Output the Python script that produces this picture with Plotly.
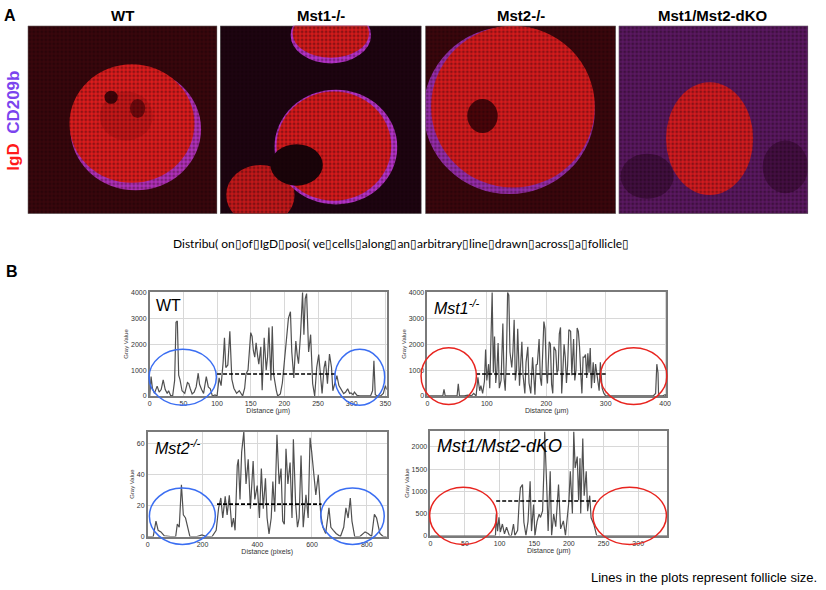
import plotly.graph_objects as go

# ---- panel B data: gray value profiles across a follicle ----
wt_dist = [0, 2, 4, 7, 11, 14, 17, 20, 23, 26, 28, 31, 34, 37, 39, 41, 43, 45, 48, 52,
           56, 58, 60, 63, 66, 69, 72, 74, 77, 80, 84, 87, 90, 93, 97, 100, 103, 106, 109, 111,
           113, 116, 119, 122, 125, 129, 133, 136, 138, 141, 143, 146, 150, 152, 154, 156, 158, 160, 162, 165,
           167, 170, 173, 175, 177, 180, 182, 184, 186, 188, 190, 194, 197, 199, 202, 204, 206, 209, 211, 214,
           217, 219, 221, 224, 227, 229, 231, 233, 236, 239, 242, 245, 248, 251, 254, 256, 259, 261, 264, 267,
           270, 272, 275, 278, 281, 284, 288, 291, 294, 297, 299, 302, 304, 308, 312, 320, 328, 331, 333, 335,
           338, 343, 347, 350, 352]
wt_gray = [0, 750, 300, 100, 380, 150, 250, 620, 250, 100, 200, 20, 0, 600, 2850, 2900, 800, 620, 200, 100,
           520, 480, 300, 80, 150, 350, 880, 450, 250, 100, 750, 350, 280, 0, 40, 0, 700, 400, 1300, 2250,
           1100, 1200, 2500, 640, 300, 100, 200, 50, 0, 300, 850, 1000, 2450, 2300, 1740, 1500, 2060, 1600, 1230, 1900,
           220, 2250, 1000, 1500, 2650, 600, 2700, 850, 500, 220, 0, 80, 500, 1100, 1900, 2500, 3000, 3260, 1700, 700,
           2120, 1600, 1250, 2370, 4000, 2370, 3770, 3960, 1700, 2370, 470, 0, 1100, 1600, 700, 100, 1100, 1360, 470, 1620,
           1100, 200, 500, 790, 400, 280, 90, 150, 280, 100, 120, 50, 150, 20, 0, 0, 0, 200, 1360, 50,
           0, 0, 100, 400, 250]

mst1_dist = [0, 10, 20, 26, 28, 30, 40, 50, 52, 54, 62, 68, 74, 78, 82, 85, 88, 90, 93, 96,
             98, 100, 103, 105, 107, 109, 111, 113, 115, 117, 119, 121, 124, 127, 129, 131, 133, 135, 137, 139,
             142, 144, 146, 148, 150, 152, 155, 157, 159, 161, 164, 166, 169, 171, 174, 177, 179, 181, 183, 185,
             188, 190, 192, 194, 196, 198, 200, 202, 205, 207, 209, 211, 213, 216, 218, 220, 222, 224, 226, 228,
             230, 232, 234, 236, 238, 241, 243, 246, 248, 250, 252, 254, 256, 258, 260, 262, 264, 266, 268, 270,
             272, 274, 276, 279, 281, 283, 286, 289, 291, 294, 297, 300, 320, 340, 360, 380, 384, 386, 388, 389,
             395, 400, 402]
mst1_gray = [0, 0, 0, 0, 260, 0, 0, 0, 470, 0, 0, 30, 0, 100, 0, 720, 200, 400, 100, 560,
             1800, 600, 1230, 300, 2200, 4000, 900, 2300, 500, 1000, 2050, 300, 600, 2800, 700, 200, 1500, 4000, 3900, 1700,
             1100, 1750, 2950, 600, 1000, 2600, 400, 1200, 2100, 800, 100, 1300, 1900, 500, 100, 1500, 600, 50, 1200, 1230,
             2200, 700, 400, 1750, 2880, 2600, 1000, 480, 2100, 2000, 450, 100, 1900, 1750, 900, 1000, 2400, 2650, 100, 1000,
             2000, 1500, 500, 1200, 2560, 2500, 800, 2200, 600, 1000, 2630, 2500, 1900, 900, 100, 1500, 1500, 1600, 700, 1650,
             900, 1850, 300, 1300, 500, 1230, 700, 200, 1300, 300, 100, 0, 0, 0, 0, 0, 100, 1230, 900, 0,
             0, 50, 0]

mst2_dist = [0, 20, 30, 38, 48, 60, 84, 102, 108, 115, 123, 130, 138, 147, 154, 180, 198, 214, 235, 250,
             259, 267, 274, 283, 290, 298, 307, 313, 319, 327, 331, 337, 343, 351, 359, 367, 375, 385, 391, 400,
             408, 415, 422, 430, 436, 443, 451, 457, 464, 472, 480, 487, 493, 499, 505, 512, 520, 527, 532, 540,
             547, 553, 560, 568, 578, 586, 593, 599, 608, 614, 623, 632, 640, 650, 662, 669, 678, 688, 704, 716,
             724, 732, 740, 746, 756, 775, 794, 805, 818, 828, 836, 848, 860, 873]
mst2_gray = [0, 0, 10, 4, 3, 0.5, 0, 0, 8, 6, 33.5, 14, 12, 6, 0, 0, 1, 0, 0, 4,
             18.6, 25, 12, 26, 14, 26.7, 6, 12, 4, 46, 50, 24, 54.7, 67.8, 34, 50, 18, 49, 24, 33,
             12, 44, 18, 37.7, 12, 1.7, 12, 35.6, 16, 66, 34, 44, 10, 8, 56.8, 34, 48, 12, 63, 22,
             6, 12, 52.5, 6, 27, 12, 64, 54.7, 37.7, 27, 40, 14.4, 6, 2, 18.6, 6, 4, 2, 0, 6,
             18.6, 12, 25, 10, 0, 0, 3, 2, 0, 14.4, 12, 2, 0, 0]

dko_dist = [0, 50, 94, 95, 97, 99, 101, 104, 107, 110, 114, 117, 120, 122, 126, 128, 130, 133, 135, 138,
            141, 144, 146, 149, 151, 154, 157, 159, 162, 164, 165, 168, 170, 173, 175, 178, 181, 185, 188, 192,
            195, 200, 202, 205, 207, 209, 212, 214, 216, 217, 220, 222, 225, 227, 230, 232, 236, 240, 300, 342]
dko_gray = [0, 0, 0, 483, 100, 409, 80, 260, 40, 186, 0, 0, 260, 0, 120, 706, 1078, 1152, 300, 0,
            320, 1227, 100, 700, 0, 320, 483, 409, 557, 1524, 2342, 1100, 100, 1450, 0, 483, 200, 1152, 150, 330,
            0, 780, 1450, 500, 2342, 1524, 1784, 800, 1747, 500, 2193, 900, 1450, 550, 900, 400, 250, 0, 0, 0]

# follicle size lines (start, end, level)
follicle_start = [100, 82, 253, 95]
follicle_end = [275, 300, 635, 243]
follicle_level = [850, 850, 21, 780]

# circled regions outside the follicle (x0, x1, y0, y1) per plot
circle_left = [(-1, 99, -356, 1803), (-10.6, 82.5, -330, 1867), (6, 247, -5.1, 31.4), (-1, 96, -200, 1093)]
circle_right = [(275, 349, -356, 1803), (291, 403, -330, 1867), (632, 864, -5.1, 31.4), (234.6, 340.7, -200, 1093)]

W, H = 826, 590


def px_x(a, b):
    return [a / W, b / W]


def px_y(top, bottom):
    return [1 - bottom / H, 1 - top / H]


fig = go.Figure()

# ---- line plots ----
plots = [
    dict(x=wt_dist, y=wt_gray, xd=px_x(149, 388), yd=px_y(292, 397), xr=[0, 352], yr=[0, 4020],
         xt=50, yt=1000, unit="Distance (μm)", lab="WT", circ="#3b6ef2", lsize=16),
    dict(x=mst1_dist, y=mst1_gray, xd=px_x(429, 670), yd=px_y(292, 397), xr=[0, 402], yr=[0, 4020],
         xt=100, yt=1000, unit="Distance (μm)", lab="<i>Mst1<sup>-/-</sup></i>", circ="#e8241f", lsize=16),
    dict(x=mst2_dist, y=mst2_gray, xd=px_x(147, 388), yd=px_y(433, 539), xr=[0, 873], yr=[0, 68],
         xt=200, yt=20, unit="Distance (pixels)", lab="<i>Mst2<sup>-/-</sup></i>", circ="#3b6ef2", lsize=16),
    dict(x=dko_dist, y=dko_gray, xd=px_x(432, 671), yd=px_y(432, 538), xr=[0, 342], yr=[0, 2370],
         xt=50, yt=500, unit="Distance (μm)", lab="<i>Mst1/Mst2-dKO</i>", circ="#e8241f", lsize=18),
]

shapes = []
annotations = []

for i, p in enumerate(plots):
    n = i + 1
    xa = "x" if n == 1 else f"x{n}"
    ya = "y" if n == 1 else f"y{n}"
    fig.add_trace(go.Scatter(x=p["x"], y=p["y"], mode="lines", xaxis=xa, yaxis=ya,
                             line=dict(color="#505050", width=1.2)))
    fig.add_trace(go.Scatter(x=[follicle_start[i], follicle_end[i]],
                             y=[follicle_level[i], follicle_level[i]], mode="lines",
                             xaxis=xa, yaxis=ya, line=dict(color="black", width=1.6, dash="4px,2px")))
    axstyle = dict(showline=True, mirror=True, linecolor="#7a7a7a", linewidth=1.5,
                   gridcolor="#d8d8d8", zeroline=False, ticks="",
                   tickfont=dict(size=7, color="#333"))
    fig.layout[f"xaxis{n if n > 1 else ''}"] = dict(domain=p["xd"], range=p["xr"], dtick=p["xt"],
                                                     anchor=ya, title=dict(text=p["unit"], font=dict(size=7, color="#333"), standoff=2),
                                                     **axstyle)
    fig.layout[f"yaxis{n if n > 1 else ''}"] = dict(domain=p["yd"], range=p["yr"], dtick=p["yt"],
                                                     anchor=xa, title=dict(text="Gray Value", font=dict(size=6, color="#333"), standoff=2),
                                                     **axstyle)

    # ellipses are placed in paper units so they can spill over the axes
    def to_paper(xv, yv, p=p):
        fx = (xv - p["xr"][0]) / (p["xr"][1] - p["xr"][0])
        fy = (yv - p["yr"][0]) / (p["yr"][1] - p["yr"][0])
        return (p["xd"][0] + fx * (p["xd"][1] - p["xd"][0]),
                p["yd"][0] + fy * (p["yd"][1] - p["yd"][0]))

    for c in (circle_left[i], circle_right[i]):
        x0, y0 = to_paper(c[0], c[2])
        x1, y1 = to_paper(c[1], c[3])
        shapes.append(dict(type="circle", xref="paper", yref="paper", x0=x0, x1=x1, y0=y0, y1=y1,
                           line=dict(color=p["circ"], width=1.5), layer="above"))

    annotations.append(dict(text=p["lab"], xref=f"{xa} domain", yref=f"{ya} domain", x=0.02, y=0.97,
                            xanchor="left", yanchor="top", showarrow=False,
                            font=dict(size=p["lsize"], color="black")))

# ---- panel A: stylised confocal images ----
image_titles = ["WT", "Mst1-/-", "Mst2-/-", "Mst1/Mst2-dKO"]
image_left = [26, 220, 427, 622]
image_right = [217, 423, 619, 813]


def blob(ax, cx, cy, rx, ry, color):
    n = ax[1:]
    shapes.append(dict(type="circle", xref=f"x{n}", yref=f"y{n}", x0=cx - rx, x1=cx + rx,
                       y0=cy - ry, y1=cy + ry, fillcolor=color, layer="below", line=dict(width=0)))


def tint(ax, color):
    n = ax[1:]
    shapes.append(dict(type="rect", xref=f"x{n}", yref=f"y{n}", x0=0, x1=1, y0=0, y1=1,
                       fillcolor=color, layer="below", line=dict(width=0)))


for k in range(4):
    n = 5 + k
    fig.layout[f"xaxis{n}"] = dict(domain=px_x(image_left[k], image_right[k]), range=[0, 1],
                                   visible=False, anchor=f"y{n}", fixedrange=True)
    fig.layout[f"yaxis{n}"] = dict(domain=px_y(23, 213), range=[0, 1], visible=False,
                                   anchor=f"x{n}", fixedrange=True)
    tint(f"x{n}", "#120306")
    # speckle texture over the whole tile
    fig.add_trace(go.Scatter(x=[0, 1, 1, 0, 0], y=[0, 0, 1, 1, 0], mode="lines", fill="toself",
                             line=dict(width=1, color="#666"), xaxis=f"x{n}", yaxis=f"y{n}",
                             fillcolor="rgba(0,0,0,0)", hoverinfo="skip",
                             fillpattern=dict(shape=".", size=4, solidity=0.45,
                                              fgcolor="rgba(15,0,5,0.75)", bgcolor="rgba(0,0,0,0)")))
    annotations.append(dict(text=f"<b>{image_titles[k]}</b>", x=(image_left[k] + image_right[k]) / 2 / W,
                            y=1 - 13 / H, xref="paper", yref="paper", showarrow=False,
                            xanchor="center", yanchor="middle", font=dict(size=15, color="black")))

# WT
tint("x5", "rgba(95,12,18,0.5)")
blob("x5", 0.57, 0.45, 0.345, 0.325, "rgba(210,60,230,0.8)")
blob("x5", 0.55, 0.48, 0.33, 0.315, "#de1d1d")
blob("x5", 0.52, 0.52, 0.14, 0.13, "#c81818")
blob("x5", 0.44, 0.62, 0.035, 0.035, "rgba(40,0,5,0.85)")
blob("x5", 0.58, 0.56, 0.04, 0.05, "rgba(60,0,5,0.6)")
# Mst1
tint("x6", "rgba(40,5,25,0.5)")
blob("x6", 0.2, 0.1, 0.17, 0.16, "#c4191a")
blob("x6", 0.575, 0.355, 0.305, 0.305, "rgba(210,60,235,0.85)")
blob("x6", 0.565, 0.36, 0.285, 0.29, "#d81b1c")
blob("x6", 0.38, 0.26, 0.13, 0.11, "#1a0409")
blob("x6", 0.55, 0.95, 0.2, 0.15, "rgba(210,60,235,0.85)")
blob("x6", 0.55, 0.96, 0.19, 0.13, "#d51c1c")
# Mst2
tint("x7", "rgba(100,12,18,0.5)")
blob("x7", 0.44, 0.55, 0.45, 0.445, "rgba(185,60,225,0.75)")
blob("x7", 0.46, 0.57, 0.43, 0.43, "#d81c1d")
blob("x7", 0.3, 0.52, 0.08, 0.09, "rgba(40,0,5,0.8)")
# dKO
tint("x8", "rgba(140,40,160,0.6)")
blob("x8", 0.15, 0.2, 0.14, 0.12, "rgba(40,5,30,0.5)")
blob("x8", 0.88, 0.25, 0.12, 0.14, "rgba(40,5,30,0.45)")
blob("x8", 0.48, 0.4, 0.23, 0.3, "#d41c20")

# ---- text ----
annotations += [
    dict(text="<b>A</b>", x=8 / W, y=1 - 13 / H, xref="paper", yref="paper", showarrow=False,
         xanchor="center", yanchor="middle", font=dict(size=16, color="black")),
    dict(text="<b>B</b>", x=10 / W, y=1 - 271 / H, xref="paper", yref="paper", showarrow=False,
         xanchor="center", yanchor="middle", font=dict(size=16, color="black")),
    dict(text="<b><span style='color:#ff1a1a'>IgD</span>  <span style='color:#7b45ee'>CD209b</span></b>",
         x=12 / W, y=1 - 119 / H, xref="paper", yref="paper", showarrow=False, textangle=-90,
         xanchor="center", yanchor="middle", font=dict(size=17)),
    dict(text="Distribu( on▯of▯IgD▯posi( ve▯cells▯along▯an▯arbitrary▯line▯drawn▯across▯a▯follicle▯",
         x=402 / W, y=1 - 243 / H, xref="paper", yref="paper", showarrow=False,
         xanchor="center", yanchor="middle", font=dict(size=12, family="Lato", color="black")),
    dict(text="Lines in the plots represent follicle size.", x=824 / W, y=1 - 580 / H,
         xref="paper", yref="paper", xanchor="right", yanchor="middle", showarrow=False,
         font=dict(size=13, color="black")),
]

fig.update_layout(width=W, height=H, margin=dict(l=0, r=0, t=0, b=0),
                  paper_bgcolor="white", plot_bgcolor="white", showlegend=False,
                  font=dict(family="Liberation Sans, Arial", color="black"),
                  shapes=shapes, annotations=annotations)

fig.write_html("out.html", config={"displayModeBar": False},
               post_script="document.body.style.margin='0';")
